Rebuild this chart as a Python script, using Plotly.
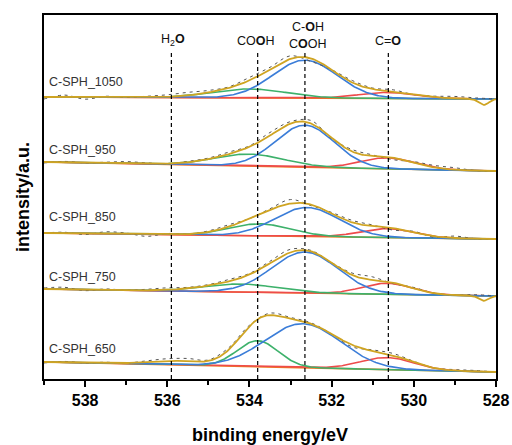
import numpy as np
import plotly.graph_objects as go

# ---------------- data ----------------
samples = ["C-SPH_1050", "C-SPH_950", "C-SPH_850", "C-SPH_750", "C-SPH_650"]
label_y = [297, 229, 162, 102, 30]

# linear background (orange) at 539 eV and 528 eV
bg_left = [282, 217, 146, 90, 17]
bg_right = [280, 208, 140, 83, 7]

# fitted components: centre (eV), height, sigma (eV)
blue_c = [532.65, 532.65, 532.60, 532.65, 532.70]
blue_h = [38, 42, 29, 41, 44]
blue_s = [0.78, 0.72, 0.78, 0.80, 0.92]

green_c = [534.00, 534.00, 533.75, 534.20, 533.80]
green_h = [9, 12, 12, 8, 26]
green_s = [0.90, 0.85, 0.75, 0.90, 0.50]

red_c = [530.65, 530.65, 530.65, 530.65, 530.65]
red_h = [6, 11, 9, 11, 12]
red_s = [0.70, 0.65, 0.65, 0.60, 0.65]

water_c = [535.9, 535.9, 535.9, 535.9, 535.9]
water_h = [0, 0, 0, 0, 4]
water_s = [0.6, 0.6, 0.6, 0.6, 0.6]

# small instrument dip at the right end of some envelopes
dip_h = [6, 0, 0, 5, 0]
dip_c = 528.3

# raw data: deviation of the measured points from the envelope, 539 -> 528 eV, 0.5 eV steps
raw_x = [539.0, 538.5, 538.0, 537.5, 537.0, 536.5, 536.0, 535.5, 535.0, 534.5, 534.0, 533.5,
         533.0, 532.5, 532.0, 531.5, 531.0, 530.5, 530.0, 529.5, 529.0, 528.5, 528.0]
raw_dev = [
    [-2, 2, -2, 1, 0, 1, 2, 3, 2, 1, 3, 2, 3, -3, 0, 2, 1, 2, 0, 1, 2, 1, 0],
    [-1, 1, 0, 1, 2, 1, 0, 1, 1, 2, 1, 3, 2, 3, -1, 2, 1, -2, 1, 2, 2, 0, 0],
    [0, 1, -1, 2, 1, -2, 1, 0, 1, 2, 0, 1, 4, -1, 1, 2, 1, -2, 1, -1, 2, 0, 0],
    [1, 2, -1, 1, 0, 1, 2, 1, 1, 2, 1, 2, 3, 1, 0, 2, 3, -1, 1, 0, 0, 1, 0],
    [-1, 1, 0, 1, 0, 1, 2, 3, 1, 2, 1, 2, 1, 1, 0, -2, 1, 2, 1, 0, 1, 1, 0],
]

peak_lines = [535.9, 533.8, 532.65, 530.62]
x_ticks = [538, 536, 534, 532, 530, 528]

# ---------------- build figure ----------------
C_BG = "#EE7B1E"
C_RED = "#EE4B4B"
C_GREEN = "#3DB16B"
C_BLUE = "#3B7DD8"
C_ENV = "#CFA422"
C_RAW = "#555555"

x = np.linspace(539, 528, 441)
xr = np.array(raw_x)


def gauss(xx, c, h, s):
    return h * np.exp(-((xx - c) ** 2) / (2 * s * s))


fig = go.Figure()
for i in range(len(samples)):
    def bg(xx):
        return bg_right[i] + (bg_left[i] - bg_right[i]) * (xx - 528) / 11.0

    b = bg(x)
    gb = gauss(x, blue_c[i], blue_h[i], blue_s[i])
    gg = gauss(x, green_c[i], green_h[i], green_s[i])
    gr = gauss(x, red_c[i], red_h[i], red_s[i])
    gw = gauss(x, water_c[i], water_h[i], water_s[i])
    env = b + gb + gg + gr + gw - gauss(x, dip_c, dip_h[i], 0.12)

    def env_at(xx):
        return (bg(xx) + gauss(xx, blue_c[i], blue_h[i], blue_s[i])
                + gauss(xx, green_c[i], green_h[i], green_s[i])
                + gauss(xx, red_c[i], red_h[i], red_s[i])
                + gauss(xx, water_c[i], water_h[i], water_s[i]))

    raw = env_at(xr) + np.array(raw_dev[i])

    for yy, col in [(b, C_BG), (b + gr, C_RED), (b + gg, C_GREEN), (b + gb, C_BLUE)]:
        fig.add_trace(go.Scatter(x=x, y=yy, mode="lines", line=dict(color=col, width=1.6),
                                 showlegend=False, hoverinfo="skip"))
    fig.add_trace(go.Scatter(x=xr, y=raw, mode="lines", line=dict(color=C_RAW, width=1, dash="3px,4px"),
                             line_shape="spline", showlegend=False, hoverinfo="skip"))
    fig.add_trace(go.Scatter(x=x, y=env, mode="lines", line=dict(color=C_ENV, width=1.8),
                             showlegend=False, hoverinfo="skip"))
    fig.add_annotation(x=538.92, y=label_y[i], text=samples[i], showarrow=False, xanchor="left",
                       font=dict(size=12.5, color="#333333", family="Arial"))

for px in peak_lines:
    fig.add_shape(type="line", x0=px, x1=px, y0=0, y1=329, xref="x", yref="y",
                  line=dict(color="black", width=1.2, dash="4px,3px"))

labels = [
    (535.87, 339, "H<sub>2</sub><b>O</b>"),
    (533.84, 338, "CO<b>O</b>H"),
    (532.57, 352, "C-<b>O</b>H"),
    (532.57, 335, "C<b>O</b>OH"),
    (530.64, 338, "C=<b>O</b>"),
]
for lx, ly, t in labels:
    fig.add_annotation(x=lx, y=ly, text=t, showarrow=False,
                       font=dict(size=12.5, color="#111111", family="Arial"))

fig.update_xaxes(range=[539, 528], tickvals=x_ticks, ticks="outside", ticklen=6, tickwidth=2,
                 tickcolor="black", showline=True, linewidth=2.2, linecolor="black", mirror=True,
                 showgrid=False, zeroline=False, automargin=False,
                 minor=dict(tickvals=[539, 537, 535, 533, 531, 529], ticks="outside", ticklen=4,
                            tickwidth=1.5, tickcolor="black"),
                 tickfont=dict(size=16, family="Arial", color="black", weight="bold"),
                 title=dict(text="binding energy/eV", font=dict(size=18, family="Arial", color="black",
                                                                  weight="bold"), standoff=22))
fig.update_yaxes(range=[0, 364], showticklabels=False, ticks="", showline=True, linewidth=2.2,
                 linecolor="black", mirror=True, showgrid=False, zeroline=False, automargin=False,
                 title=dict(text="intensity/a.u.", font=dict(size=18, family="Arial", color="black",
                                                               weight="bold"), standoff=8))
fig.update_layout(width=512, height=445, margin=dict(l=44, r=16, t=15, b=66),
                  plot_bgcolor="white", paper_bgcolor="white")
fig.write_html("out.html")
